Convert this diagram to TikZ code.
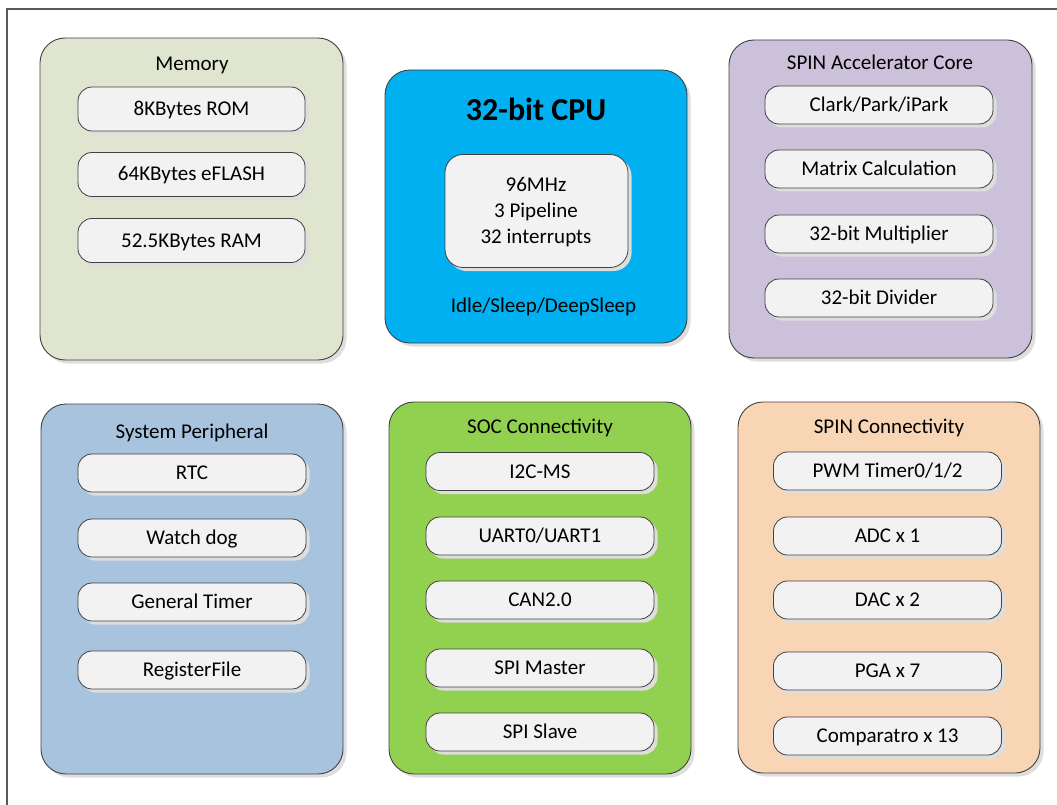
\documentclass[tikz,border=0pt]{standalone}
\usepackage{fontspec}
\setmainfont{Carlito}
\usetikzlibrary{shadows}
\definecolor{edge}{HTML}{404040}
\definecolor{framec}{HTML}{595959}
\definecolor{itemfill}{HTML}{F2F2F2}
\definecolor{memc}{HTML}{E0E5CF}
\definecolor{cpuc}{HTML}{00B0F0}
\definecolor{accc}{HTML}{CCC1DA}
\definecolor{sysc}{HTML}{A7C3DE}
\definecolor{socc}{HTML}{92D050}
\definecolor{spcc}{HTML}{F8D5B4}
\tikzset{
  shade/.style={drop shadow={shadow xshift=3.5pt, shadow yshift=-3.5pt, fill=black!13, opacity=1}},
  group/.style={draw=edge, line width=0.9pt, rounded corners=25pt, inner sep=0pt, shade},
  item/.style={draw=edge, line width=0.8pt, fill=itemfill, rounded corners=14pt, inner sep=0pt,
    minimum width=228pt, minimum height=38pt, shade, font=\fontsize{21}{24}\selectfont,
    text height=17pt, text depth=4pt},
  title/.style={font=\fontsize{21}{24}\selectfont, inner sep=0pt, text height=17pt, text depth=4pt},
}
\begin{document}
\begin{tikzpicture}[x=1pt,y=-1pt]
\useasboundingbox (0,0) rectangle (1057,805);
\draw[framec, line width=2pt] (7,805) -- (7,9) -- (1057,9);

% group boxes
\node[group, fill=memc, minimum width=303pt, minimum height=322pt] (mem) at (191.5,199) {};
\node[group, fill=cpuc, minimum width=302pt, minimum height=273pt] (cpu) at (536,206.5) {};
\node[group, fill=accc, minimum width=303pt, minimum height=318pt] (acc) at (880.5,199) {};
\node[group, fill=sysc, minimum width=302pt, minimum height=370pt] (sys) at (192,589) {};
\node[group, fill=socc, minimum width=302pt, minimum height=372pt] (soc) at (540,588) {};
\node[group, fill=spcc, minimum width=302pt, minimum height=371pt] (spc) at (889,587.5) {};

% titles
\node[title] (memt) at (192,64) {Memory};
\node[title] (acct) at (880,63) {SPIN Accelerator Core};
\node[title] (syst) at (192,432) {System Peripheral};
\node[title] (soct) at (540,427) {SOC Connectivity};
\node[title] (spct) at (889,427) {SPIN Connectivity};

% memory
\node[item, minimum width=227pt, minimum height=44pt] (rom) at (191.5,109) {8KBytes ROM};
\node[item, minimum width=227pt, minimum height=44pt] (flash) at (191.5,174.5) {64KBytes eFLASH};
\node[item, minimum width=227pt, minimum height=44pt] (ram) at (191.5,240.5) {52.5KBytes RAM};

% cpu
\node[font=\fontsize{32}{36}\selectfont\bfseries, inner sep=0pt] (cput) at (536,109) {32-bit CPU};
\node[draw=edge, line width=0.8pt, fill=itemfill, rounded corners=18pt, shade,
  minimum width=183pt, minimum height=113pt, inner sep=0pt] (core) at (536.5,211) {};
\node[title] (mhz) at (536,185) {96MHz};
\node[title] (pipe) at (536,211) {3 Pipeline};
\node[title] (irq) at (536,236.5) {32 interrupts};
\node[title] (idle) at (543.5,306) {Idle/Sleep/DeepSleep};

% spin accelerator
\node[item] (clark) at (879,105) {Clark/Park/iPark};
\node[item] (matrix) at (879,169) {Matrix Calculation};
\node[item] (mult) at (879,234) {32-bit Multiplier};
\node[item] (div) at (879,298) {32-bit Divider};

% system peripheral
\node[item] (rtc) at (192,473) {RTC};
\node[item] (wdog) at (192,538) {Watch dog};
\node[item] (gtim) at (192,602) {General Timer};
\node[item] (regf) at (192,670) {RegisterFile};

% soc connectivity
\node[item] (i2c) at (540,471.5) {I2C-MS};
\node[item] (uart) at (540,536) {UART0/UART1};
\node[item] (can) at (540,600) {CAN2.0};
\node[item] (spim) at (540,668) {SPI Master};
\node[item] (spis) at (540,732) {SPI Slave};

% spin connectivity
\node[item] (pwm) at (887.5,471) {PWM Timer0/1/2};
\node[item] (adc) at (887.5,536) {ADC x 1};
\node[item] (dac) at (887.5,600) {DAC x 2};
\node[item] (pga) at (887.5,671) {PGA x 7};
\node[item] (cmp) at (887.5,736) {Comparatro x 13};
\end{tikzpicture}
\end{document}
